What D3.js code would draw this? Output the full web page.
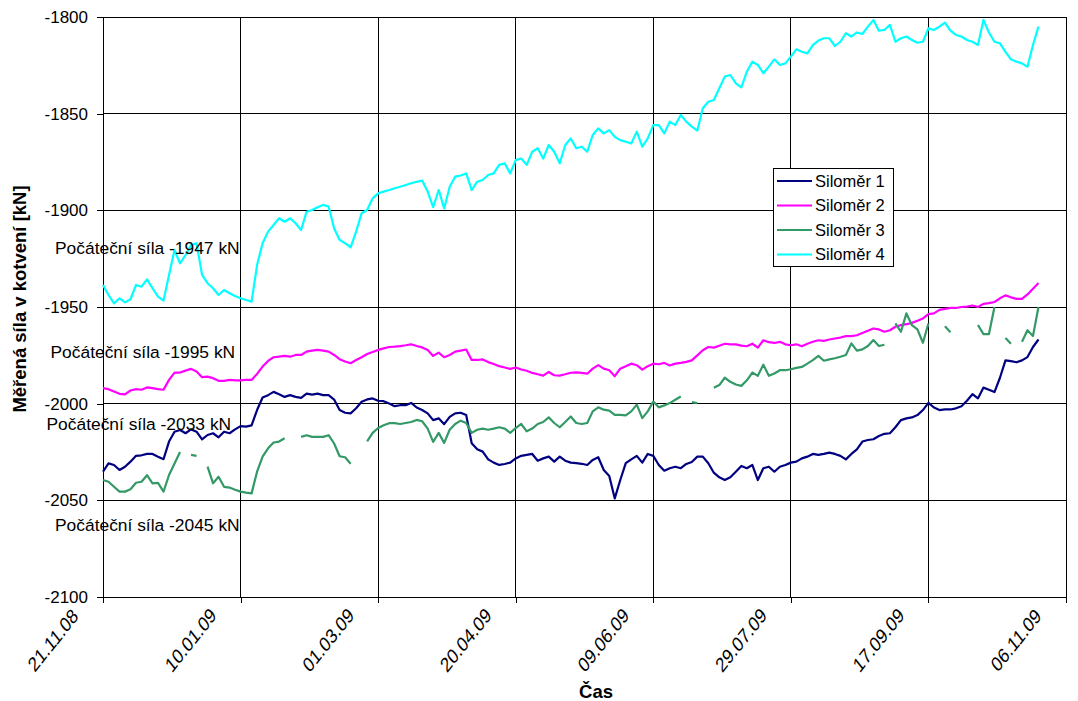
<!DOCTYPE html>
<html>
<head>
<meta charset="utf-8">
<script src="https://cdn.jsdelivr.net/npm/d3@7"></script>
<style>
  body { margin: 0; background: #fff; }
  svg text { font-family: "Liberation Sans", Arial, sans-serif; fill: #000; }
</style>
</head>
<body>
<svg id="chart" width="1078" height="701"></svg>
<script>
// Sampling grid: one reading every 2 days starting 21.11.2008
const startDate = new Date(Date.UTC(2008, 10, 21));
const sampleStepDays = 2;

const yTickValues = [-1800, -1850, -1900, -1950, -2000, -2050, -2100];
const xTickDayOffsets = [0, 50, 100, 150, 200, 250, 300, 350];
const seriesNames = ["Siloměr 1", "Siloměr 2", "Siloměr 3", "Siloměr 4"];
const initialForceLabels = [
  "Počáteční síla -1947 kN",
  "Počáteční síla -1995 kN",
  "Počáteční síla -2033 kN",
  "Počáteční síla -2045 kN"
];

// Measured anchor force [kN]; null = no reading
const silomer1 = [
  -2035.2,-2030.9,-2031.7,-2034.3,-2032.6,-2030,-2027,-2026.7,-2026,-2026,-2027.4,-2028.7,-2019.6,-2014.5,-2013.6,-2015.3,-2013.3,-2014.5,-2018.5,-2016.2,-2015.3,-2017.4,-2014.5,-2015.3,-2013.3,-2011.6,-2011.9,-2011.2,-2003.3,-1996.8,-1995.6,-1993.9,-1995.1,-1996.5,-1995.6,-1996.5,-1997,-1994.8,-1995.3,-1994.8,-1995.6,-1995.6,-1997.9,-2003.3,
  -2004.7,-2005,-2002.4,-1999,-1997.8,-1997.3,-1998.5,-1998.7,-1999.9,-2001.3,-2000.8,-2000.8,-1999.6,-2002,-2003.3,-2005,-2008.5,-2007.6,-2010.6,-2006.8,-2005,-2004.7,-2005.9,-2020.5,-2023.6,-2024.8,-2028.8,-2030.5,-2031.7,-2031.2,-2030.5,-2028.3,-2027,-2026.5,-2026,-2029.5,-2028.3,-2027.4,-2030,-2027.4,-2029.5,-2030.5,-2030.8,
  -2031.1,-2031.7,-2029.1,-2027.7,-2034.3,-2037.4,-2049,-2039.5,-2030.8,-2028.8,-2027,-2030.5,-2026,-2027,-2031.7,-2034.7,-2033.4,-2032.6,-2033.4,-2031.2,-2030.2,-2027.4,-2027.4,-2030.8,-2035.7,-2038.1,-2039.5,-2038.1,-2035.2,-2032.2,-2033.4,-2031.7,-2039.5,-2033.4,-2032.6,-2035.2,-2032.6,-2031.7,-2030.5,-2030,-2028.3,-2027.4,-2026,-2026.5,
  -2026,-2025.3,-2026,-2027,-2028.8,-2026,-2023.6,-2019.6,-2018.8,-2018.4,-2016.7,-2015.6,-2015.3,-2012.2,-2008.5,-2007.6,-2007.1,-2005.9,-2003.3,-1999.6,-2002,-2003.3,-2003,-2003,-2002.4,-2001.3,-1998.5,-1995.1,-1997.3,-1991.7,-1992.8,-1994,-1986.6,-1977.6,-1978,-1978.6,-1977.6,-1975.9,-1970.7,-1966.8
];

const silomer2 = [
  -1992,-1992.5,-1993.7,-1994.9,-1995.2,-1993.2,-1992.5,-1992.8,-1991.6,-1992,-1992.5,-1992.8,-1987.7,-1983.9,-1983.9,-1982.9,-1982,-1983.4,-1986.3,-1986,-1986.8,-1988.2,-1988.2,-1987.7,-1988,-1988,-1987.7,-1987.7,-1984.6,-1980.8,-1977.9,-1976,-1975.7,-1975.3,-1975.7,-1974.8,-1974.8,-1973.1,-1972.6,-1972.2,-1972.6,-1973.1,-1974.8,-1977,
  -1978.2,-1979.1,-1977.4,-1976,-1974.3,-1973.3,-1972.2,-1971.4,-1970.7,-1970.5,-1970.2,-1969.8,-1969.3,-1970.2,-1970.9,-1972.2,-1975.3,-1973.6,-1976,-1974.8,-1973.1,-1972.6,-1972,-1977.4,-1977.4,-1977.1,-1978.5,-1979.5,-1980.6,-1981.3,-1982,-1981.3,-1982.3,-1983,-1984.1,-1984.8,-1985.5,-1983.6,-1985.3,-1985.5,-1984.8,-1984,-1983.8,
  -1984.1,-1984.5,-1981.9,-1980.1,-1981.9,-1982.7,-1985.8,-1981.9,-1980.6,-1979.3,-1980.1,-1982.4,-1980.6,-1979.3,-1979.6,-1978.9,-1980.3,-1979.3,-1978.9,-1978.4,-1977.6,-1975,-1972.4,-1970.7,-1971,-1970,-1969,-1969.3,-1969.3,-1970,-1970.3,-1969,-1971,-1967.2,-1968.2,-1968.6,-1968,-1969.3,-1969.8,-1969.3,-1970.3,-1969,-1968,-1967.2,
  -1967.5,-1966.8,-1966.3,-1965.8,-1965.1,-1965.1,-1964.6,-1963.4,-1962.3,-1961.1,-1961.6,-1962.8,-1962,-1960.2,-1959.4,-1958.9,-1958.2,-1957.1,-1955.9,-1953.7,-1953.3,-1951.5,-1951,-1950.5,-1950.5,-1950,-1949.8,-1949.2,-1950,-1948.4,-1948,-1947.4,-1945.5,-1944,-1945,-1945.8,-1945.8,-1943.5,-1940.5,-1937.6
];

const silomer3 = [
  -2039.5,-2040.4,-2043,-2045.5,-2045.5,-2044.3,-2040.9,-2040.4,-2037,-2041.2,-2041,-2045.5,-2036.9,-2030.9,-2025,null,-2026.5,-2027,null,-2032.6,-2041.2,-2037.8,-2043,-2043.4,-2044.5,-2045.5,-2046,-2046.4,-2035.2,-2027.4,-2023.1,-2020.1,-2019.6,-2017.9,null,null,-2017.2,-2016.3,-2017.2,-2017.2,-2017.2,-2016.3,-2020.6,-2027.2,
  -2027.7,-2031.1,null,null,-2019.5,-2015.1,-2012.6,-2011.2,-2010.1,-2010.1,-2010.5,-2010,-2009.5,-2008.4,-2009.1,-2012.9,-2019.8,-2015.1,-2020.3,-2013.5,-2010.5,-2008.8,-2010,-2015.1,-2013.5,-2012.9,-2013.5,-2012.9,-2012.2,-2012.9,-2015.1,-2012.6,-2010.5,-2014.3,-2012.9,-2010.5,-2009.5,-2007.1,-2010,-2012.2,-2009.5,-2006.6,-2010,
  -2010.5,-2010,-2004,-2001.9,-2003.1,-2003.6,-2005.8,-2005.8,-2006.1,-2004,-2000.5,-2007.5,-2004,-1998.9,-2001.9,-2000.9,-1999.7,-1998,-1996.3,null,-1999.2,-1999.7,null,null,-1991.8,-1990.4,-1986.6,-1988.7,-1990.1,-1990.8,-1987.9,-1983.9,-1985.6,-1979.8,-1985.6,-1984.4,-1982.7,-1982.7,-1982.2,-1981.5,-1981,-1979.3,-1977.5,-1975.3,
  -1977.8,-1977.1,-1976.5,-1975.7,-1974.8,-1968.8,-1972.6,-1971.9,-1970.2,-1967.1,-1970.2,-1969.5,null,-1958.5,-1962.8,-1953.3,-1959.4,-1961.6,-1968.5,-1958.5,null,null,-1960,-1963,null,null,null,null,-1959.3,-1964,-1964,-1950,null,-1966,-1969,null,-1968,-1962,-1965,-1950
];

const silomer4 = [
  -1938.6,-1943.8,-1948.1,-1945.5,-1947.6,-1946,-1938.6,-1939.5,-1935.7,-1940.3,-1944.6,-1946.7,-1933.4,-1920.5,-1927.4,-1923.1,-1918,-1917,-1933.4,-1937.7,-1940.3,-1943.8,-1941.2,-1942.9,-1944.3,-1945.5,-1946.4,-1947.2,-1928.3,-1917,-1911,-1907.6,-1904.1,-1905.9,-1904.1,-1906.7,-1910.2,-1900.7,-1899.8,-1898.4,-1897.2,-1898,-1909.3,-1915.3,
  -1917,-1919.2,-1911,-1901.5,-1899.8,-1893.8,-1891.2,-1890.3,-1889.5,-1888.6,-1887.8,-1886.9,-1886,-1885.2,-1884.6,-1890.3,-1898.4,-1889.5,-1899,-1887.8,-1882.6,-1882,-1880.9,-1889.5,-1885.2,-1884.3,-1881.7,-1880.9,-1876.5,-1875.7,-1880.9,-1874,-1873.2,-1876.5,-1869.7,-1867.9,-1873.2,-1866.2,-1869.7,-1875.7,-1866.2,-1862.8,-1867.9,
  -1867.1,-1869.7,-1861,-1857.6,-1860.2,-1858.5,-1862,-1863.7,-1864.5,-1865.4,-1859.3,-1867.1,-1862.8,-1855.9,-1855.9,-1860.2,-1854.1,-1855.9,-1850.7,-1854.1,-1856.7,-1858.8,-1847.2,-1843.8,-1842.9,-1836.9,-1830.8,-1830,-1834.3,-1836.4,-1828.3,-1823.1,-1824.8,-1829.1,-1825.7,-1821.9,-1824.8,-1824,-1820.5,-1816.7,-1818,-1818.8,-1814.5,-1812.2,
  -1811,-1811,-1815,-1812.8,-1808.4,-1810.1,-1808,-1808.8,-1805,-1801.6,-1807.1,-1806.7,-1804.1,-1812.8,-1811,-1810.1,-1811.9,-1813.3,-1812.8,-1805.8,-1806.7,-1805,-1802.9,-1807.1,-1809.3,-1810.1,-1811.9,-1812.8,-1814.5,-1801.5,-1808,-1812.8,-1813.6,-1818,-1821.9,-1823.1,-1824,-1825.7,-1814.5,-1805
];

const seriesValues = [silomer1, silomer2, silomer3, silomer4];
const seriesColors = ["#000080", "#ff00ff", "#339966", "#00ffff"];

const svg = d3.select("#chart");
const plot = { left: 103, right: 1066, top: 17, bottom: 597 };

const x = d3.scaleUtc()
  .domain([startDate, d3.utcDay.offset(startDate, 350)])
  .range([plot.left, plot.right]);
const y = d3.scaleLinear()
  .domain([-2100, -1800])
  .range([plot.bottom, plot.top]);

const sampleDates = silomer1.map((_, i) => d3.utcDay.offset(startDate, i * sampleStepDays));
const xTickDates = xTickDayOffsets.map(d => d3.utcDay.offset(startDate, d));
const fmt = d3.utcFormat("%d.%m.%y");

// Grid
const grid = svg.append("g").attr("shape-rendering", "crispEdges");
grid.selectAll("line.h").data(yTickValues).join("line")
  .attr("x1", plot.left).attr("x2", plot.right)
  .attr("y1", d => y(d)).attr("y2", d => y(d))
  .attr("stroke", "#000").attr("stroke-width", 1);
grid.selectAll("line.v").data(xTickDates).join("line")
  .attr("x1", d => x(d)).attr("x2", d => x(d))
  .attr("y1", plot.top).attr("y2", plot.bottom)
  .attr("stroke", "#000").attr("stroke-width", 1);

// Axes
const yAxis = svg.append("g")
  .attr("transform", `translate(${plot.left},0)`)
  .call(d3.axisLeft(y).tickValues(yTickValues).tickSize(6).tickSizeOuter(0)
    .tickPadding(9).tickFormat(d => String(d)));
yAxis.selectAll("text").attr("font-size", 17).attr("font-family", '"Liberation Sans", Arial, sans-serif');
yAxis.selectAll("line,path").attr("stroke", "#000").attr("shape-rendering", "crispEdges");

const xAxis = svg.append("g")
  .attr("transform", `translate(0,${plot.bottom})`)
  .call(d3.axisBottom(x).tickValues(xTickDates).tickSize(6).tickSizeOuter(0).tickFormat(""));
xAxis.selectAll("line,path").attr("stroke", "#000").attr("shape-rendering", "crispEdges");

// Rotated date labels (slightly stretched vertically)
svg.append("g").selectAll("text").data(xTickDates).join("text")
  .attr("transform", d => `translate(${x(d) - 50},${plot.bottom + 43}) scale(1,1.25) rotate(-45)`)
  .attr("text-anchor", "middle")
  .attr("dy", "0.35em")
  .attr("font-size", 16.5)
  .text(d => fmt(d));

// Series lines
const line = d3.line()
  .defined(v => v !== null)
  .x((v, i) => x(sampleDates[i]))
  .y(v => y(v));

svg.append("g").selectAll("path").data(seriesValues).join("path")
  .attr("d", line)
  .attr("fill", "none")
  .attr("stroke", (d, i) => seriesColors[i])
  .attr("stroke-width", 2.2)
  .attr("stroke-linejoin", "round");

// Initial force notes
const notePos = [[55, 254], [50.5, 358], [46.5, 429.5], [55, 531]];
svg.append("g").selectAll("text").data(initialForceLabels).join("text")
  .attr("x", (d, i) => notePos[i][0])
  .attr("y", (d, i) => notePos[i][1])
  .attr("font-size", 17.4)
  .text(d => d);

// Axis titles
svg.append("text")
  .attr("transform", "translate(25.5,299) rotate(-90)")
  .attr("text-anchor", "middle")
  .attr("font-size", 18.5)
  .attr("font-weight", "bold")
  .text("Měřená síla v kotvení [kN]");
svg.append("text")
  .attr("x", 596).attr("y", 698)
  .attr("text-anchor", "middle")
  .attr("font-size", 18.5)
  .attr("font-weight", "bold")
  .text("Čas");

// Legend
const legend = svg.append("g").attr("transform", "translate(773,168)");
legend.append("rect")
  .attr("x", 0.5).attr("y", 0.5).attr("width", 120).attr("height", 98)
  .attr("fill", "#fff").attr("stroke", "#000").attr("stroke-width", 1);
const rows = legend.selectAll("g.row").data(seriesNames).join("g")
  .attr("transform", (d, i) => `translate(0,${13 + i * 24.5})`);
rows.append("line")
  .attr("x1", 4).attr("x2", 39).attr("y1", 0).attr("y2", 0)
  .attr("stroke", (d, i) => seriesColors[i]).attr("stroke-width", 2);
rows.append("text")
  .attr("x", 42).attr("y", 0).attr("dy", "0.36em")
  .attr("font-size", 16.5)
  .text(d => d);
</script>
</body>
</html>
